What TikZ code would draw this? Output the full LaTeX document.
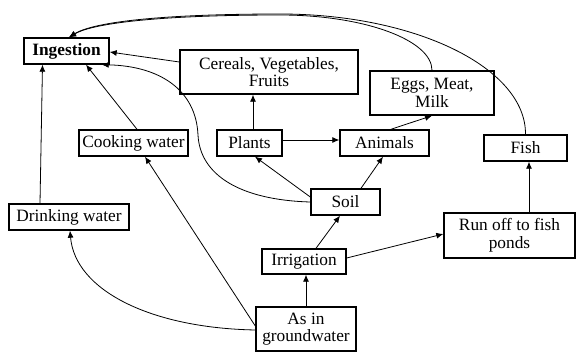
\documentclass[tikz,border=0pt]{standalone}
\usepackage{fontspec}
\setmainfont{Liberation Serif}
\usetikzlibrary{arrows.meta}
\begin{document}
\begin{tikzpicture}[x=1pt,y=-1pt,
 box/.style={draw, line width=1.4pt, inner sep=0pt, align=center, font=\fontsize{17.3}{17.5}\selectfont},
 conn/.style={line width=0.8pt, -{Latex[length=7pt,width=6pt]}}]
\useasboundingbox (0,0) rectangle (576,352);
% nodes
\node[box, minimum width=85pt, minimum height=26pt, font=\fontsize{17.3}{17.5}\selectfont\bfseries] (ing) at (66.5,51) {Ingestion};
\node[box, minimum width=178pt, minimum height=44pt] (cer) at (269,72) {Cereals, Vegetables,\\Fruits};
\node[box, minimum width=109pt, minimum height=26pt] (cook) at (133.5,143) {Cooking water};
\node[box, minimum width=65pt, minimum height=26pt] (plants) at (249.5,143) {Plants};
\node[box, minimum width=124pt, minimum height=44pt] (eggs) at (432,93) {Eggs, Meat,\\Milk};
\node[box, minimum width=89pt, minimum height=26pt] (animals) at (384.5,143) {Animals};
\node[box, minimum width=83pt, minimum height=26pt] (fish) at (525.5,148) {Fish};
\node[box, minimum width=69pt, minimum height=26pt] (soil) at (345.5,202) {Soil};
\node[box, minimum width=120pt, minimum height=26pt] (drink) at (69,217) {Drinking water};
\node[box, minimum width=84pt, minimum height=25pt] (irr) at (304,261.5) {Irrigation};
\node[box, minimum width=131pt, minimum height=45pt] (runoff) at (509.5,235.5) {Run off to fish\\ponds};
\node[box, minimum width=100pt, minimum height=44pt] (as) at (306,329) {As in\\groundwater};
% connectors
\draw[conn] ([xshift=-29pt]drink.north) -- ([xshift=-26.5pt]drink.north |- ing.south);
\draw[conn] ([xshift=3.5pt]cook.north) -- ([xshift=19.5pt]ing.south);
\draw[conn] ([yshift=10pt]cer.west) -- ([yshift=-1pt]ing.east);
\draw[conn] (soil.west) .. controls (240,200) and (200,175) .. (198,135)
   .. controls (196,90) and (160,66) .. ([xshift=-8pt]ing.south east);
\draw[conn] ([xshift=3.5pt]plants.north) -- ([xshift=3.5pt]plants.north |- cer.south);
\draw[conn] ([yshift=3pt]plants.east) -- ([yshift=3pt]animals.west);
\draw[conn] ([yshift=5pt]soil.west) -- ([xshift=5.5pt]plants.south);
\draw[conn] ([xshift=15.5pt]soil.north) -- ([xshift=-1.5pt]animals.south);
\draw[conn] ([xshift=6.5pt]animals.north) -- (eggs.south);
\draw[conn] (eggs.north) .. controls (432,40) and (364,15) .. (280,15)
   .. controls (170,15) and (95,22) .. ([xshift=2.5pt]ing.north);
\draw[conn] (fish.north) .. controls (526,68) and (416,14) .. (280,14)
   .. controls (170,14) and (95,21) .. ([xshift=2.5pt]ing.north);
\draw[conn] ([xshift=12pt]irr.north) -- ([xshift=-5.5pt]soil.south);
\draw[conn] ([yshift=3.5pt]irr.east) -- ([yshift=1.5pt]runoff.west);
\draw[conn] ([xshift=19.5pt]runoff.north) -- ([xshift=19.5pt]runoff.north |- fish.south);
\draw[conn] (as.north) -- (as.north |- irr.south);
\draw[conn] ([yshift=3pt]as.west) -- ([xshift=11.5pt]cook.south);
\draw[conn] ([yshift=-1pt]as.west) .. controls (150,328) and (75,290) .. ([xshift=1pt]drink.south);
\end{tikzpicture}
\end{document}
